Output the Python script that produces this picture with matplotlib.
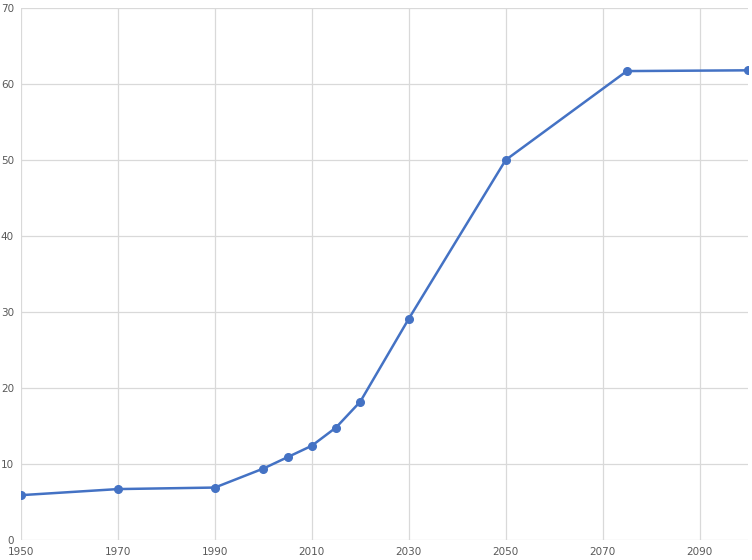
import matplotlib
matplotlib.use("Agg")
import matplotlib.pyplot as plt

years = [1950, 1970, 1990, 2000, 2005, 2010, 2015, 2020, 2030, 2050, 2075, 2100]
values = [5.9, 6.7, 6.9, 9.4, 10.9, 12.4, 14.8, 18.2, 29.1, 50.0, 61.7, 61.8]
x_ticks = list(range(1950, 2100, 20))
y_ticks = list(range(0, 71, 10))

fig = plt.figure(figsize=(7.52, 5.6), dpi=100)
ax = fig.add_axes([21/752, 20/560, 727/752, 532/560])
ax.plot(years, values, color="#4472C4", linewidth=1.8, marker="o", markersize=5.5, zorder=3)
ax.set_xlim(1950, 2100)
ax.set_ylim(0, 70)
ax.set_xticks(x_ticks)
ax.set_yticks(y_ticks)
ax.grid(True, color="#D9D9D9", linewidth=0.9)
ax.set_axisbelow(True)
for s in ax.spines.values():
    s.set_visible(False)
ax.tick_params(length=0, labelsize=7.5, labelcolor="#595959", pad=5)
fig.savefig("out.png", dpi=100)
